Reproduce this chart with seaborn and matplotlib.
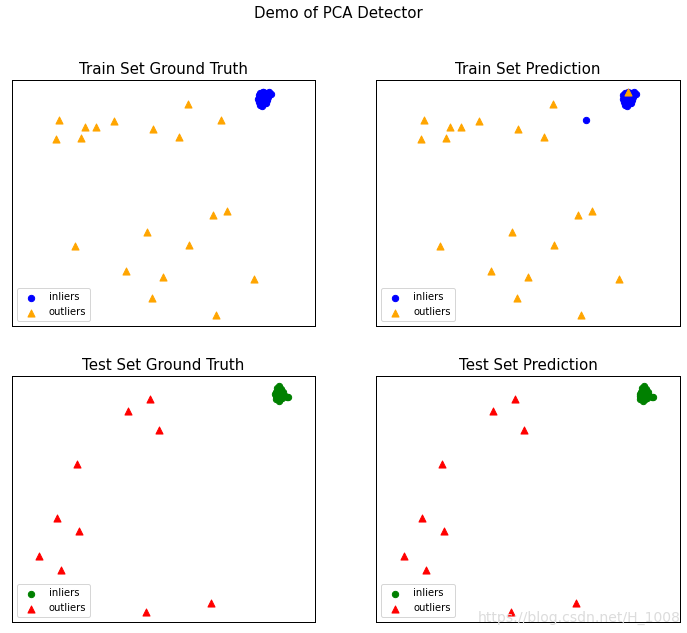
import numpy as np
import pandas as pd
import matplotlib
matplotlib.use("Agg")
import matplotlib.pyplot as plt
import seaborn as sns

# ---------------- data (arbitrary 2-D units) ----------------
# Train set: inlier cluster (top right) + 20 outliers
train_in_x = [8.20, 8.25, 8.30, 8.18, 8.28, 8.35, 8.22, 8.32, 8.40, 8.15,
              8.24, 8.38, 8.28, 8.45, 8.55, 8.50, 8.42, 8.12, 8.20, 8.35, 8.30,
              8.18, 8.26, 8.40, 8.14]
train_in_y = [7.45, 7.50, 7.55, 7.55, 7.40, 7.48, 7.62, 7.65, 7.60, 7.40,
              7.35, 7.70, 7.72, 7.55, 7.66, 7.72, 7.45, 7.50, 7.68, 7.35, 7.74,
              7.30, 7.28, 7.38, 7.62]
train_out_x = [5.82, 1.57, 2.43, 2.79, 3.38, 4.67, 6.90, 1.47, 2.29, 5.53,
               7.11, 6.65, 4.46, 2.10, 5.86, 3.78, 5.00, 7.99, 4.64, 6.75]
train_out_y = [7.34, 6.81, 6.58, 6.58, 6.76, 6.49, 6.79, 6.19, 6.21, 6.25,
               3.81, 3.66, 3.10, 2.66, 2.69, 1.81, 1.64, 1.55, 0.92, 0.36]

# Train prediction: one true inlier flagged as outlier, one true outlier kept as inlier
train_pred_fp_x = [8.30]   # inlier predicted outlier
train_pred_fp_y = [7.74]
train_pred_fn_x = [6.90]   # outlier predicted inlier
train_pred_fn_y = [6.79]

# Test set: inlier cluster + 10 outliers (prediction identical)
test_in_x = [8.75, 8.80, 8.85, 8.72, 8.82, 8.90, 8.78, 8.88, 8.70, 8.95,
             8.78, 8.68, 9.00, 9.08, 9.12, 8.85, 8.92, 8.75, 8.82, 8.70, 8.80]
test_in_y = [7.50, 7.55, 7.60, 7.60, 7.42, 7.50, 7.68, 7.70, 7.45, 7.58,
             7.38, 7.52, 7.45, 7.42, 7.44, 7.35, 7.40, 7.72, 7.80, 7.36, 7.30]
test_out_x = [4.57, 3.85, 4.87, 2.16, 1.51, 2.23, 0.91, 1.64, 6.57, 4.43]
test_out_y = [7.35, 6.97, 6.35, 5.21, 3.45, 3.02, 2.20, 1.74, 0.63, 0.35]

titles = ["Train Set Ground Truth", "Train Set Prediction",
          "Test Set Ground Truth", "Test Set Prediction"]
suptitle = "Demo of PCA Detector"
watermark = "https://blog.csdn.net/H_1008"

# ---------------- build point sets ----------------
def remove_pts(xs, ys, rx, ry):
    keep = [(x, y) for x, y in zip(xs, ys)
            if not any(abs(x - a) < 1e-9 and abs(y - b) < 1e-9 for a, b in zip(rx, ry))]
    return [k[0] for k in keep], [k[1] for k in keep]

tp_in_x, tp_in_y = remove_pts(train_in_x, train_in_y, train_pred_fp_x, train_pred_fp_y)
tp_in_x += train_pred_fn_x
tp_in_y += train_pred_fn_y
tp_out_x, tp_out_y = remove_pts(train_out_x, train_out_y, train_pred_fn_x, train_pred_fn_y)
tp_out_x += train_pred_fp_x
tp_out_y += train_pred_fp_y

panels = [
    (train_in_x, train_in_y, train_out_x, train_out_y, "blue", "orange"),
    (tp_in_x, tp_in_y, tp_out_x, tp_out_y, "blue", "orange"),
    (test_in_x, test_in_y, test_out_x, test_out_y, "green", "red"),
    (test_in_x, test_in_y, test_out_x, test_out_y, "green", "red"),
]

# ---------------- plot ----------------
sns.set_style("white")
plt.rcParams["font.family"] = ["DejaVu Sans"]
plt.rcParams["text.color"] = "black"
plt.rcParams["axes.labelcolor"] = "black"

fig = plt.figure(figsize=(687 / 72, 633 / 72), dpi=72)
positions = [
    [0.017, 0.4845, 0.4415, 0.3895],
    [0.548, 0.4845, 0.4415, 0.3895],
    [0.017, 0.0169, 0.4415, 0.3895],
    [0.548, 0.0169, 0.4415, 0.3895],
]

for pos, title, (ix, iy, ox, oy, ic, oc) in zip(positions, titles, panels):
    ax = fig.add_axes(pos)
    din = pd.DataFrame({"x": ix, "y": iy})
    dout = pd.DataFrame({"x": ox, "y": oy})
    sns.scatterplot(data=din, x="x", y="y", ax=ax, color=ic, s=40,
                    edgecolor=ic, linewidth=1, label="inliers")
    sns.scatterplot(data=dout, x="x", y="y", ax=ax, color=oc, s=50, marker="^",
                    edgecolor=oc, linewidth=1, label="outliers")
    ax.set_xlim(0, 10)
    ax.set_ylim(0, 8.13)
    ax.set_xticks([])
    ax.set_yticks([])
    ax.set_xlabel("")
    ax.set_ylabel("")
    ax.set_title(title, fontsize=15, color="black")
    for sp in ax.spines.values():
        sp.set_visible(True)
        sp.set_color("black")
        sp.set_linewidth(1.0)
    leg = ax.legend(loc="lower left", prop={"size": 10})
    for t in leg.get_texts():
        t.set_color("black")

fig.suptitle(suptitle, fontsize=15, x=0.493, y=0.99, color="black")
fig.text(0.99, 0.012, watermark, ha="right", va="bottom", fontsize=14,
         color="#dcdcdc", zorder=10)

fig.savefig("out.png", dpi=72)
